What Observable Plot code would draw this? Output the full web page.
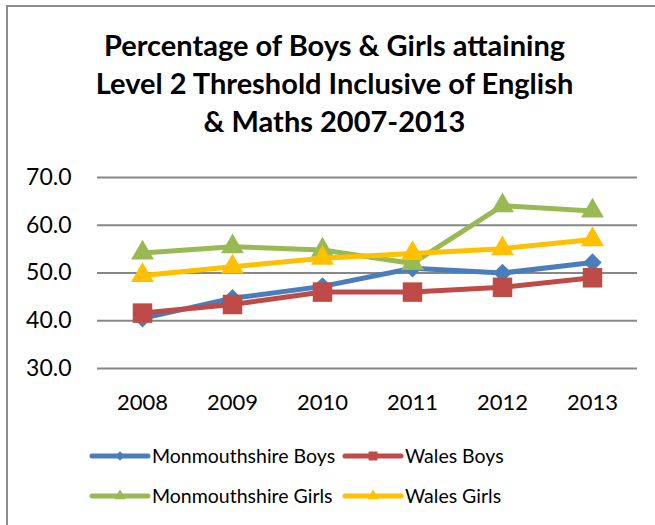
<!DOCTYPE html>
<html>
<head>
<meta charset="utf-8">
<script src="https://cdn.jsdelivr.net/npm/d3@7"></script>
<script src="https://cdn.jsdelivr.net/npm/@observablehq/plot@0.6"></script>
<style>
  html, body { margin: 0; padding: 0; background: #fff; overflow: hidden; }
  #wrap { position: relative; width: 655px; height: 525px; overflow: hidden; font-family: Lato, "Open Sans", sans-serif; }
  #title { position: absolute; left: 0; top: 26px; width: 655px; text-align: center; font-weight: bold; font-size: 29px; line-height: 38px; color: #000; padding-left: 14px; box-sizing: border-box; }
  #legend { position: absolute; left: 0; top: 0; }
  #frame { position: absolute; left: 6px; top: 5px; width: 700px; height: 540px; border-left: 2px solid #8c8c8c; border-top: 2px solid #8c8c8c; box-sizing: border-box; }
</style>
</head>
<body>
<div id="wrap">
  <div id="frame"></div>
  <div id="chart" style="position:absolute;left:0;top:0;"></div>
  <div id="title">Percentage of Boys &amp; Girls attaining<br>Level 2 Threshold Inclusive of English<br>&amp; Maths 2007-2013</div>
  <svg id="legend" width="655" height="525"></svg>
</div>
<script>
const years = ["2008", "2009", "2010", "2011", "2012", "2013"];
const seriesNames = ["Monmouthshire Boys", "Wales Boys", "Monmouthshire Girls", "Wales Girls"];
const monmouthshireBoys = [40.5, 44.7, 47.2, 51.0, 50.0, 52.2];
const walesBoys = [41.6, 43.4, 46.0, 46.0, 47.0, 49.0];
const monmouthshireGirls = [54.2, 55.5, 54.8, 52.0, 64.1, 63.0];
const walesGirls = [49.5, 51.3, 53.1, 54.1, 55.1, 57.0];
const yTicks = [30, 40, 50, 60, 70];

const colors = ["#4a7ebb", "#be4b48", "#98b954", "#ffc000"];
const symbols = ["diamond2", "square", "triangle", "triangle"];
const radii = [8.3, 11, 8.5, 8.5];
const values = [monmouthshireBoys, walesBoys, monmouthshireGirls, walesGirls];

const marks = [
  Plot.ruleY(yTicks, {stroke: "#878787", strokeWidth: 2, strokeOpacity: 1})
];
seriesNames.forEach((name, i) => {
  const data = years.map((y, j) => ({year: y, value: values[i][j], series: name}));
  marks.push(Plot.line(data, {x: "year", y: "value", stroke: colors[i], strokeWidth: 5, strokeLinejoin: "round", strokeLinecap: "round"}));
  marks.push(Plot.dot(data, {x: "year", y: "value", symbol: () => symbols[i], r: radii[i], fill: colors[i], stroke: "none"}));
});

const chart = Plot.plot({
  width: 655,
  height: 525,
  marginTop: 177,
  marginBottom: 157,
  marginLeft: 97,
  marginRight: 18,
  style: {fontFamily: "Lato, 'Open Sans', sans-serif", fontSize: "22px", color: "#000", background: "transparent"},
  x: {type: "point", domain: years, padding: 0.5, tickSize: 0, tickPadding: 26, label: null},
  y: {domain: [30, 70], ticks: yTicks, tickFormat: d => d.toFixed(1), tickSize: 0, tickPadding: 26, label: null},
  symbol: {type: "identity"},
  marks: [
    Plot.axisY({ticks: yTicks, tickFormat: d => d.toFixed(1), tickSize: 0, tickPadding: 26, fontSize: 23, label: null}),
    Plot.axisX({tickSize: 0, tickPadding: 26, fontSize: 22, label: null}),
    ...marks
  ]
});
document.getElementById("chart").appendChild(chart);

// legend
const leg = d3.select("#legend");
const legendItems = [
  {x: 92, y: 456}, {x: 345, y: 456}, {x: 92, y: 496}, {x: 345, y: 496}
];
const symMap = {diamond2: d3.symbolDiamond2, square: d3.symbolSquare, triangle: d3.symbolTriangle};
legendItems.forEach((p, i) => {
  leg.append("line").attr("x1", p.x).attr("x2", p.x + 56).attr("y1", p.y).attr("y2", p.y)
    .attr("stroke", colors[i]).attr("stroke-width", 5).attr("stroke-linecap", "round");
  const sz = i === 1 ? 80 : 55;
  leg.append("path").attr("d", d3.symbol(symMap[symbols[i]], sz)()).attr("transform", `translate(${p.x + 28},${p.y})`).attr("fill", colors[i]);
  leg.append("text").attr("x", p.x + 60).attr("y", p.y).attr("dy", "0.35em")
    .attr("font-family", "Lato, 'Open Sans', sans-serif").attr("font-size", 19.5).attr("fill", "#000")
    .text(seriesNames[i]);
});
</script>
</body>
</html>
